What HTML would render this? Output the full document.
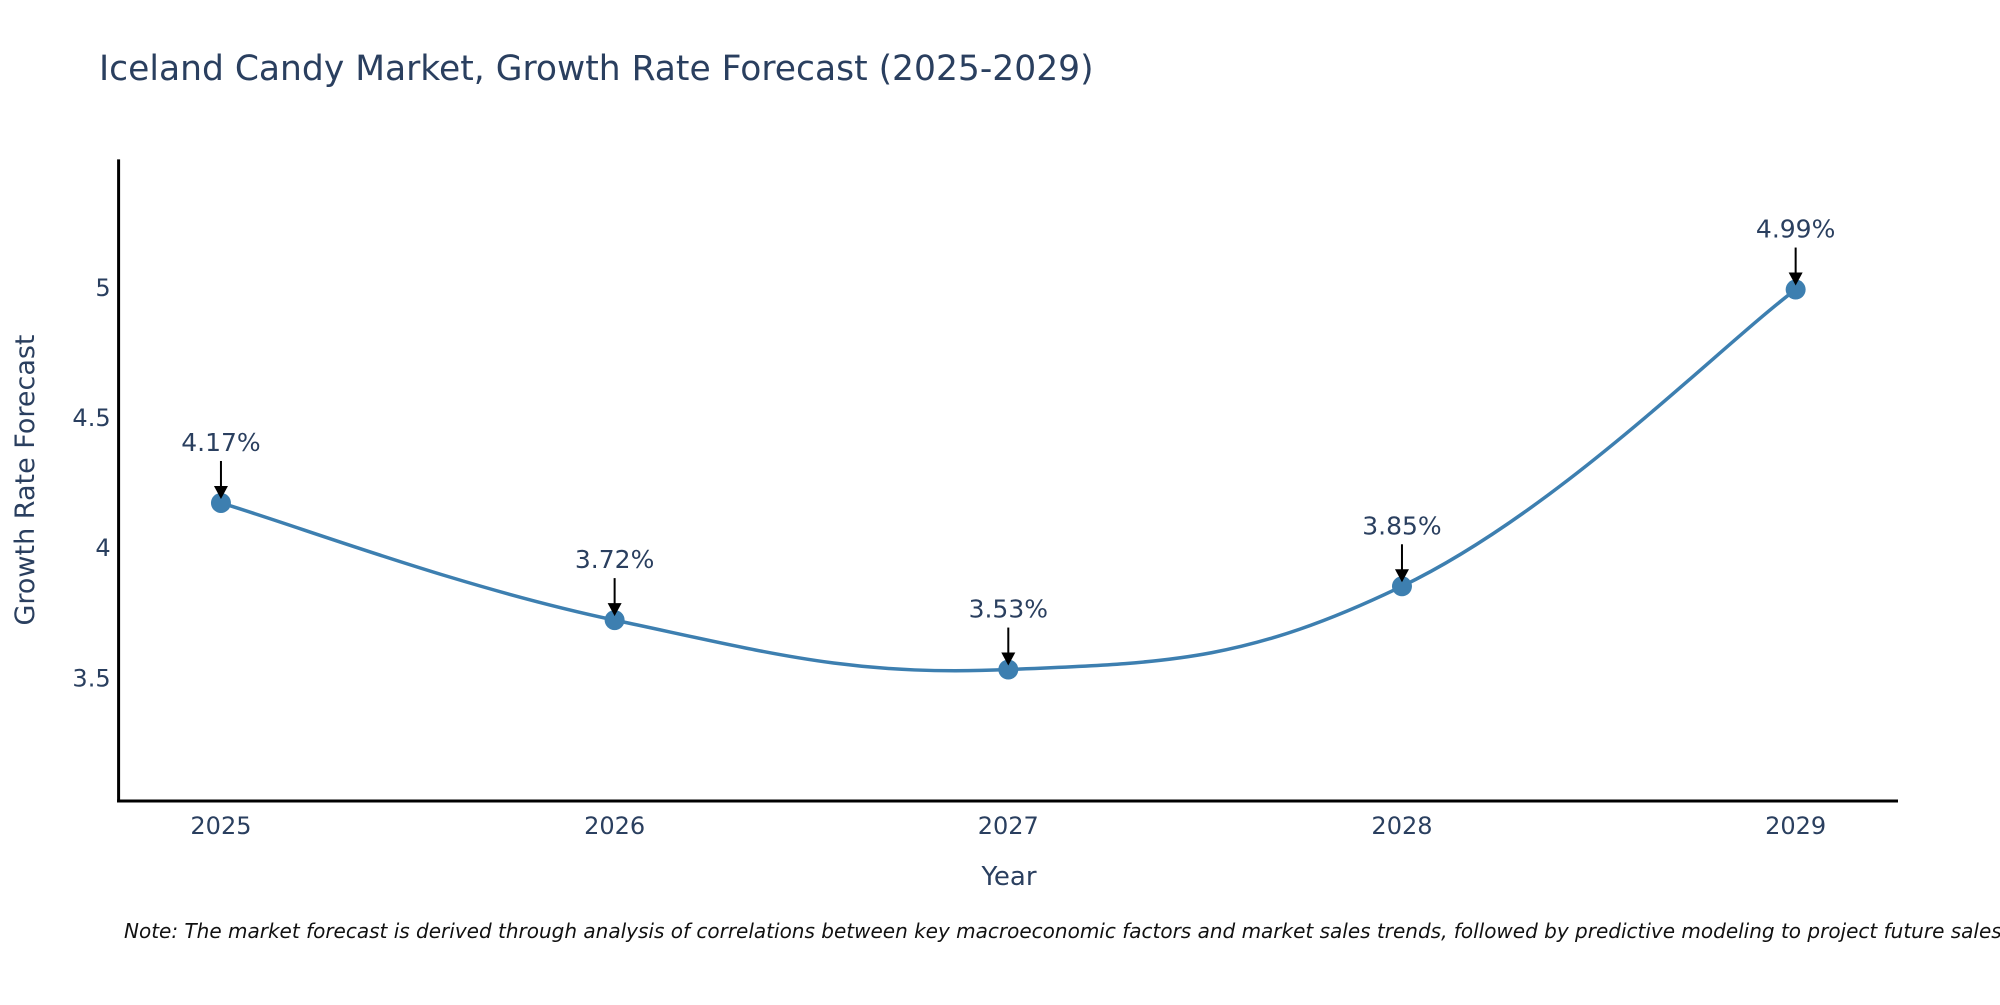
<!DOCTYPE html>
<html><head><meta charset="utf-8"><style>
body{margin:0;background:#fff;}
svg text{font-family:"DejaVu Sans","Liberation Sans",sans-serif;fill:#2a3f5f;}
</style></head><body>
<svg id="chart" width="2000" height="1000" xmlns="http://www.w3.org/2000/svg">
<text x="99" y="80" font-size="34.5">Iceland Candy Market, Growth Rate Forecast (2025-2029)</text>
<g id="axes"></g>
<g id="series"></g>
<text x="1009" y="885" font-size="26" text-anchor="middle">Year</text>
<text transform="translate(34,480) rotate(-90)" font-size="27" text-anchor="middle">Growth Rate Forecast</text>
<text x="124" y="938" font-size="20" font-style="italic" style="fill:#111">Note: The market forecast is derived through analysis of correlations between key macroeconomic factors and market sales trends, followed by predictive modeling to project future sales.</text>
</svg>
<script>
const years = [2025, 2026, 2027, 2028, 2029];
const growth = [4.17, 3.72, 3.53, 3.85, 4.99];
const yTicks = [3.5, 4, 4.5, 5];
const valueLabels = ["4.17%", "3.72%", "3.53%", "3.85%", "4.99%"];

const NS = "http://www.w3.org/2000/svg";
const L = 118.6, R = 1898, T = 159.4, B = 801;
const xMin = 2024.74, xMax = 2029.26, yMin = 3.025, yMax = 5.49;
const xs = v => L + (v - xMin) / (xMax - xMin) * (R - L);
const ys = v => B - (v - yMin) / (yMax - yMin) * (B - T);
function mk(tag, attrs, parent){const e=document.createElementNS(NS,tag);for(const k in attrs)e.setAttribute(k,attrs[k]);parent.appendChild(e);return e;}
const axes = document.getElementById('axes'), series = document.getElementById('series');

const yl = mk('line',{x1:L,y1:T,x2:L,y2:B+1.5,stroke:'#000','stroke-width':3},axes);


const xl = mk('line',{x1:L-1.5,y1:B,x2:R,y2:B,stroke:'#000','stroke-width':3},axes);



yTicks.forEach(t=>{
  const tx = mk('text',{x:L-8,y:ys(t)+9,'font-size':24,'text-anchor':'end'},axes);
  tx.textContent = String(t);
  
  
});
years.forEach(y=>{
  const tx = mk('text',{x:xs(y),y:B+33,'font-size':24,'text-anchor':'middle'},axes);
  tx.textContent = String(y);
  
  
});

const pts = years.map((y,i)=>[xs(y), ys(growth[i])]);
let d = `M${pts[0][0]},${pts[0][1]}`;
const s = 0.2;
for(let i=0;i<pts.length-1;i++){
  const p0=pts[Math.max(i-1,0)], p1=pts[i], p2=pts[i+1], p3=pts[Math.min(i+2,pts.length-1)];
  const c1=[p1[0]+(p2[0]-p0[0])*s, p1[1]+(p2[1]-p0[1])*s];
  const c2=[p2[0]-(p3[0]-p1[0])*s, p2[1]-(p3[1]-p1[1])*s];
  d += ` C${c1[0]},${c1[1]} ${c2[0]},${c2[1]} ${p2[0]},${p2[1]}`;
}
const line = mk('path',{d:d,fill:'none',stroke:'#3d7fb0','stroke-width':3.5},series);



pts.forEach((p,i)=>{
  const c = mk('circle',{cx:p[0],cy:p[1],r:10,fill:'#3d7fb0'},series);
  
  
  const a = mk('line',{x1:p[0],y1:p[1]-42,x2:p[0],y2:p[1]-16,stroke:'#000','stroke-width':2},series);
  
  
  const h = mk('polygon',{points:`${p[0]-7},${p[1]-17} ${p[0]+7},${p[1]-17} ${p[0]},${p[1]-4}`,fill:'#000'},series);
  
  
  const t = mk('text',{x:p[0],y:p[1]-52,'font-size':25,'text-anchor':'middle'},series);
  t.textContent = valueLabels[i];
  
  
});
</script>
</body></html>
